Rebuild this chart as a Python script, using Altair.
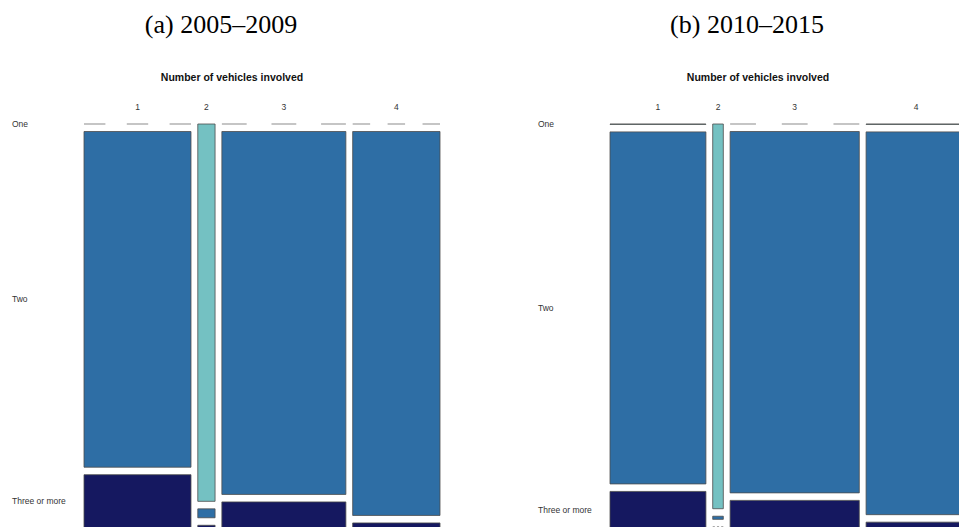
import altair as alt
import pandas as pd

# ---- data -------------------------------------------------------------
periods = ["(a) 2005–2009", "(b) 2010–2015"]
vehicles = ["1", "2", "3", "4"]
casualty_rows = ["One", "Two", "Three or more"]

# share of all accidents falling in each "vehicles involved" column
col_share_0509 = [0.3188, 0.0515, 0.3695, 0.2602]
col_share_1015 = [0.2858, 0.0316, 0.3849, 0.2977]

# within-column share of each row (One, Two, Three or more)
one_0509 = [0.000, 0.970, 0.000, 0.000]
two_0509 = [0.863, 0.023, 0.933, 0.987]
three_0509 = [0.137, 0.007, 0.067, 0.013]

one_1015 = [0.001, 0.989, 0.000, 0.001]
two_1015 = [0.905, 0.008, 0.929, 0.984]
three_1015 = [0.094, 0.000, 0.071, 0.015]

row_colors = ["#74c1c2", "#2e6ea5", "#151860"]

# ---- layout (pixels inside each panel) --------------------------------
PANEL_W = [526, 433]
PANEL_H = 527
LEFT, TOP = 84, 124
MOS_W, MOS_H = 356, 404
GAP_X, GAP_Y = 6.8, 7.5


def mosaic_cells(col_share, row_shares):
    avail_w = MOS_W - GAP_X * (len(vehicles) - 1)
    avail_h = MOS_H - GAP_Y * (len(casualty_rows) - 1)
    cells = []
    x = LEFT
    for j, v in enumerate(vehicles):
        w = avail_w * col_share[j]
        y = TOP
        for i, r in enumerate(casualty_rows):
            h = avail_h * row_shares[i][j]
            cells.append(dict(col=v, row=r, x0=x, x1=x + w, xm=x + w / 2,
                              y0=y, y1=y + h, ym=y + h / 2,
                              zero=(h == 0), dash=[w / 5, w / 5]))
            y += h + GAP_Y
        x += w + GAP_X
    return pd.DataFrame(cells)


def panel(title, col_share, row_shares, width):
    df = mosaic_cells(col_share, row_shares)
    xs = alt.Scale(domain=[0, width], nice=False, zero=False)
    ys = alt.Scale(domain=[0, PANEL_H], reverse=True, nice=False, zero=False)

    cells = alt.Chart(df[~df["zero"]]).mark_rect(
        stroke="#4d4d4d", strokeWidth=0.8, clip=True
    ).encode(
        x=alt.X("x0:Q", scale=xs, axis=None),
        x2="x1:Q",
        y=alt.Y("y0:Q", scale=ys, axis=None),
        y2="y1:Q",
        color=alt.Color("row:N", scale=alt.Scale(domain=casualty_rows, range=row_colors),
                        legend=None),
    )

    # empty cells are drawn as dashed lines
    empty = alt.Chart(df[df["zero"]]).mark_rule(
        color="#8c8c8c", strokeWidth=1.2, clip=True
    ).encode(
        x=alt.X("x0:Q", scale=xs, axis=None),
        x2="x1:Q",
        y=alt.Y("y0:Q", scale=ys, axis=None),
        strokeDash=alt.StrokeDash("dash:N", scale=None),
    )

    first = df[df["row"] == casualty_rows[0]]
    col_labels = alt.Chart(first).mark_text(
        font="Liberation Sans", fontSize=8.5, color="#333333", baseline="middle"
    ).encode(
        x=alt.X("xm:Q", scale=xs, axis=None),
        y=alt.value(106.5),
        text="col:N",
    )

    left_col = df[df["col"] == vehicles[0]]
    row_labels = alt.Chart(left_col).mark_text(
        font="Liberation Sans", fontSize=8.5, color="#333333",
        align="left", baseline="middle"
    ).encode(
        x=alt.value(12),
        y=alt.Y("ym:Q", scale=ys, axis=None),
        text="row:N",
    )

    heading = alt.Chart(pd.DataFrame({"t": ["Number of vehicles involved"]})).mark_text(
        font="Liberation Sans", fontSize=10.5, fontWeight="bold", color="#111111",
        baseline="middle"
    ).encode(x=alt.value(232), y=alt.value(77.5), text="t:N")

    caption = alt.Chart(pd.DataFrame({"t": [title]})).mark_text(
        font="Liberation Serif", fontSize=26, color="#000000", baseline="alphabetic"
    ).encode(x=alt.value(221), y=alt.value(33), text="t:N")

    return alt.layer(cells, empty, col_labels, row_labels, heading, caption).properties(
        width=width, height=PANEL_H
    )


left = panel(periods[0], col_share_0509, [one_0509, two_0509, three_0509], PANEL_W[0])
right = panel(periods[1], col_share_1015, [one_1015, two_1015, three_1015], PANEL_W[1])

chart = alt.hconcat(left, right, spacing=0).resolve_scale(
    x="independent", y="independent"
).properties(padding=0).configure_view(stroke=None)

chart.save("out.html", embed_options={"renderer": "svg", "actions": False})
